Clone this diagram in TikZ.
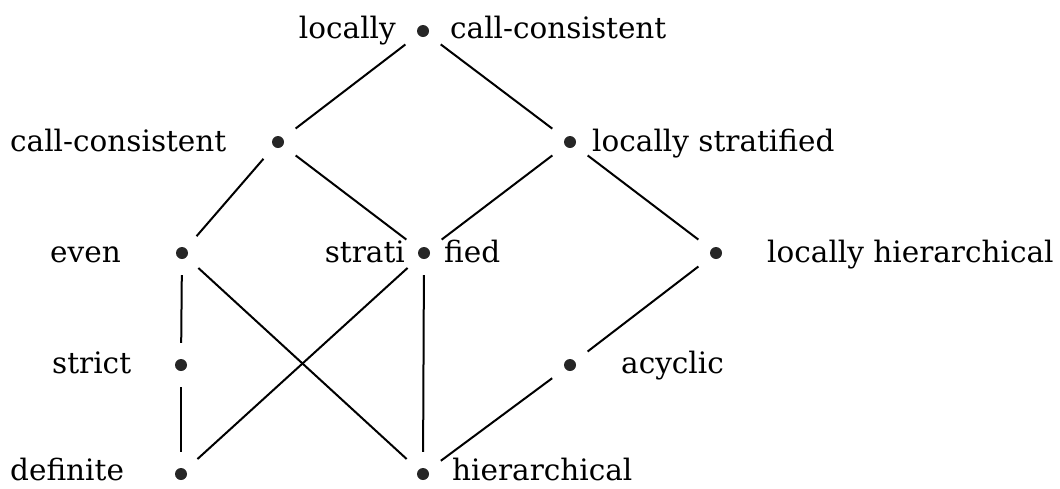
\documentclass[tikz,border=0pt]{standalone}
\usepackage{fontspec}
\setmainfont{DejaVu Serif}
\begin{document}
\begin{tikzpicture}[x=1pt,y=-1pt,
  dot/.style={circle,fill=black!85,inner sep=0pt,minimum size=12pt},
  lbl/.style={inner sep=0pt,font=\fontsize{29.5}{34}\selectfont},
  edge/.style={line width=2pt,shorten >=16pt,shorten <=16pt}]
\useasboundingbox (0,0) rectangle (1060,488);
% dots
\node[dot] (top) at (423,31) {};
\node[dot] (cc) at (278,142) {};
\node[dot] (ls) at (570,142) {};
\node[dot] (ev) at (182,253) {};
\node[dot] (st) at (424,253) {};
\node[dot] (lh) at (716,253) {};
\node[dot] (sc) at (181,365) {};
\node[dot] (ac) at (570,365) {};
\node[dot] (df) at (181,474) {};
\node[dot] (hi) at (423,474) {};
% labels
\node[lbl,anchor=base east] (ltop1) at (396,38) {locally};
\node[lbl,anchor=base west] (ltop2) at (450,38) {call-consistent};
\node[lbl,anchor=base west] (lcc) at (10,151) {call-consistent};
\node[lbl,anchor=base west] (lls) at (592,151) {locally stratified};
\node[lbl,anchor=base west] (lev) at (50,262) {even};
\node[lbl,anchor=base east] (lst1) at (405,262) {strati};
\node[lbl,anchor=base west] (lst2) at (444,262) {fied};
\node[lbl,anchor=base west] (llh) at (767,262) {locally hierarchical};
\node[lbl,anchor=base west] (lsc) at (52,373) {strict};
\node[lbl,anchor=base west] (lac) at (621,373) {acyclic};
\node[lbl,anchor=base west] (ldf) at (10,480) {definite};
\node[lbl,anchor=base west] (lhi) at (452,480) {hierarchical};
% edges
\draw[edge] (top) -- (cc);
\draw[edge] (top) -- (ls);
\draw[edge] (cc) -- (ev);
\draw[edge] (cc) -- (st);
\draw[edge] (ls) -- (st);
\draw[edge] (ls) -- (lh);
\draw[edge] (ev) -- (sc);
\draw[edge] (ev) -- (hi);
\draw[edge] (sc) -- (df);
\draw[edge] (st) -- (df);
\draw[edge] (st) -- (hi);
\draw[edge] (lh) -- (ac);
\draw[edge] (ac) -- (hi);
\end{tikzpicture}
\end{document}
